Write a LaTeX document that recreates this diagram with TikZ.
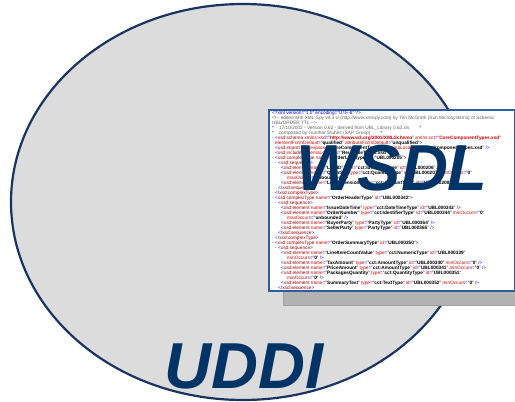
\documentclass[tikz,border=0pt]{standalone}
\usepackage{fontspec}
\usetikzlibrary{shapes.geometric}
\setmainfont{Liberation Sans}
\definecolor{ellfill}{RGB}{220,220,220}
\definecolor{ellline}{RGB}{24,52,96}
\definecolor{navy}{RGB}{0,51,102}
\definecolor{rectline}{RGB}{46,92,156}
\definecolor{shadowgray}{RGB}{178,178,178}
\definecolor{xblue}{RGB}{0,0,255}
\definecolor{xred}{RGB}{204,0,0}
\definecolor{xbrown}{RGB}{153,0,0}
\definecolor{xgray}{RGB}{100,100,100}
\newcommand\xb[1]{\textcolor{xblue}{#1}}
\newcommand\xr[1]{\textcolor{xred}{#1}}
\newcommand\xn[1]{\textcolor{xbrown}{#1}}
\newcommand\xv[1]{\textbf{#1}}
\newcommand\xg[1]{\textcolor{xgray}{#1}}
\newcommand\ind[1]{\hspace*{#1pt}}
\newcommand\xel[2]{\xb{<}\xn{xsd:element}\ \xr{name}\xb{=}"\xv{#1}"\ \xr{type}\xb{=}"\xv{#2}"}
\tikzset{
  bigword/.style={font=\fontsize{65}{65}\selectfont\bfseries\itshape, text=navy, inner sep=0pt},
  codetext/.style={font=\fontsize{4.75}{5}\selectfont, align=left, inner sep=0pt, anchor=north west}
}
\begin{document}
\begin{tikzpicture}[x=1pt,y=-1pt]
\useasboundingbox (0,0) rectangle (515,402);
\fill[white] (0,0) rectangle (515,402);
% ellipse
\node[ellipse, draw=ellline, fill=ellfill, line width=2.2pt, minimum width=464pt, minimum height=396pt, inner sep=0pt] (uddiell) at (243,202) {};
\node[bigword, anchor=base] (uddi) at (244,388) {UDDI};
% shadow
\node[fill=shadowgray, draw=shadowgray!90!black, line width=0.6pt, minimum width=240pt, minimum height=185pt, inner sep=0pt, anchor=north west] (shadow) at (283,120) {};
% code panel
\node[fill=white, draw=rectline, line width=2pt, minimum width=246pt, minimum height=181pt, inner sep=0pt, anchor=north west] (panel) at (267.5,108.5) {};
\begin{scope}
\clip (268.5,109.5) rectangle (512.5,288.5);
\node[codetext] (code) at (272,110.5) {%
\xb{<?xml version="1.0" encoding="UTF-8" ?>}\\
\xg{<!-{}- edited with XML Spy v4.3 U (http://www.xmlspy.com) by Tim McGrath (Sun Microsystems) of Schema}\\
\xg{UBL/ORDER TTL -{}->}\\
\xb{*}\ind{5}\xg{17/10/2002 - Version 0.62 - derived from UBL\_Library 0.62.xls}\ind{10}\xb{*}\\
\xb{*}\ind{5}\xg{composed by Gunther Stuhec (SAP Group)}\ind{10}\xb{*}\\
\xr{- }\xb{<}\xn{xsd:schema}\ \xr{xmlns:xsd}\xb{=}"\xr{\textbf{http://www.w3.org/2001/XMLSchema}}"\ \xr{xmlns:cct}\xb{=}"\xr{\textbf{CoreComponentTypes.xsd}}"\\
\ind{3}\xr{elementFormDefault}\xb{=}"\xv{qualified}"\ \xr{attributeFormDefault}\xb{=}"\xv{unqualified}"\xb{>}\\
\ind{3}\xb{<}\xn{xsd:import}\ \xr{namespace}\xb{=}"\xv{CoreComponentTypes}"\ \xr{schemaLocation}\xb{=}"\xv{CoreComponentTypes.xsd}"\ \xb{/>}\\
\ind{3}\xb{<}\xn{xsd:include}\ \xr{schemaLocation}\xb{=}"\xv{ReusableTypes.xsd}"\ \xb{/>}\\
\xr{- }\xb{<}\xn{xsd:complexType}\ \xr{name}\xb{=}"\xv{OrderLineType}"\ \xr{id}\xb{=}"\xv{UBL000205}"\xb{>}\\
\ind{3}\xr{- }\xb{<}\xn{xsd:sequence}\xb{>}\\
\ind{9}\xel{LineID}{cct:IdentifierType}\ \xr{id}\xb{=}"\xv{UBL000206}"\ \xb{/>}\\
\ind{9}\xel{Quantity}{cct:QuantityType}\ \xr{id}\xb{=}"\xv{UBL000207}"\ \xr{minOccurs}\xb{=}"\xv{0}"\\
\ind{15}\xr{maxOccurs}\xb{=}"\xv{unbounded}"\ \xb{/>}\\
\ind{9}\xel{LineExtension}{cct:AmountType}\ \xr{id}\xb{=}"\xv{UBL000208}"\ \xb{/>}\\
\ind{6}\xb{</}\xn{xsd:sequence}\xb{>}\\
\ind{3}\xb{</}\xn{xsd:complexType}\xb{>}\\
\xr{- }\xb{<}\xn{xsd:complexType}\ \xr{name}\xb{=}"\xv{OrderHeaderType}"\ \xr{id}\xb{=}"\xv{UBL000342}"\xb{>}\\
\ind{3}\xr{- }\xb{<}\xn{xsd:sequence}\xb{>}\\
\ind{9}\xel{IssueDateTime}{cct:DateTimeType}\ \xr{id}\xb{=}"\xv{UBL000343}"\ \xb{/>}\\
\ind{9}\xel{OrderNumber}{cct:IdentifierType}\ \xr{id}\xb{=}"\xv{UBL000344}"\ \xr{minOccurs}\xb{=}"\xv{0}"\\
\ind{15}\xr{maxOccurs}\xb{=}"\xv{unbounded}"\ \xb{/>}\\
\ind{9}\xel{BuyerParty}{PartyType}\ \xr{id}\xb{=}"\xv{UBL000364}"\ \xb{/>}\\
\ind{9}\xel{SellerParty}{PartyType}\ \xr{id}\xb{=}"\xv{UBL000365}"\ \xb{/>}\\
\ind{6}\xb{</}\xn{xsd:sequence}\xb{>}\\
\ind{3}\xb{</}\xn{xsd:complexType}\xb{>}\\
\xr{- }\xb{<}\xn{xsd:complexType}\ \xr{name}\xb{=}"\xv{OrderSummaryType}"\ \xr{id}\xb{=}"\xv{UBL000350}"\xb{>}\\
\ind{3}\xr{- }\xb{<}\xn{xsd:sequence}\xb{>}\\
\ind{9}\xel{LineItemCountValue}{cct:NumericType}\ \xr{id}\xb{=}"\xv{UBL000339}"\\
\ind{15}\xr{minOccurs}\xb{=}"\xv{0}"\ \xb{/>}\\
\ind{9}\xel{TaxAmount}{cct:AmountType}\ \xr{id}\xb{=}"\xv{UBL000340}"\ \xr{minOccurs}\xb{=}"\xv{0}"\ \xb{/>}\\
\ind{9}\xel{PriceAmount}{cct:AmountType}\ \xr{id}\xb{=}"\xv{UBL000341}"\ \xr{minOccurs}\xb{=}"\xv{0}"\ \xb{/>}\\
\ind{9}\xel{PackagesQuantity}{cct:QuantityType}\ \xr{id}\xb{=}"\xv{UBL000351}"\\
\ind{15}\xr{minOccurs}\xb{=}"\xv{0}"\ \xb{/>}\\
\ind{9}\xel{SummaryText}{cct:TextType}\ \xr{id}\xb{=}"\xv{UBL000352}"\ \xr{minOccurs}\xb{=}"\xv{0}"\ \xb{/>}\\
\ind{6}\xb{</}\xn{xsd:sequence}\xb{>}
};
\end{scope}
\node[bigword, anchor=base] (wsdl) at (392,190) {WSDL};
\end{tikzpicture}
\end{document}
